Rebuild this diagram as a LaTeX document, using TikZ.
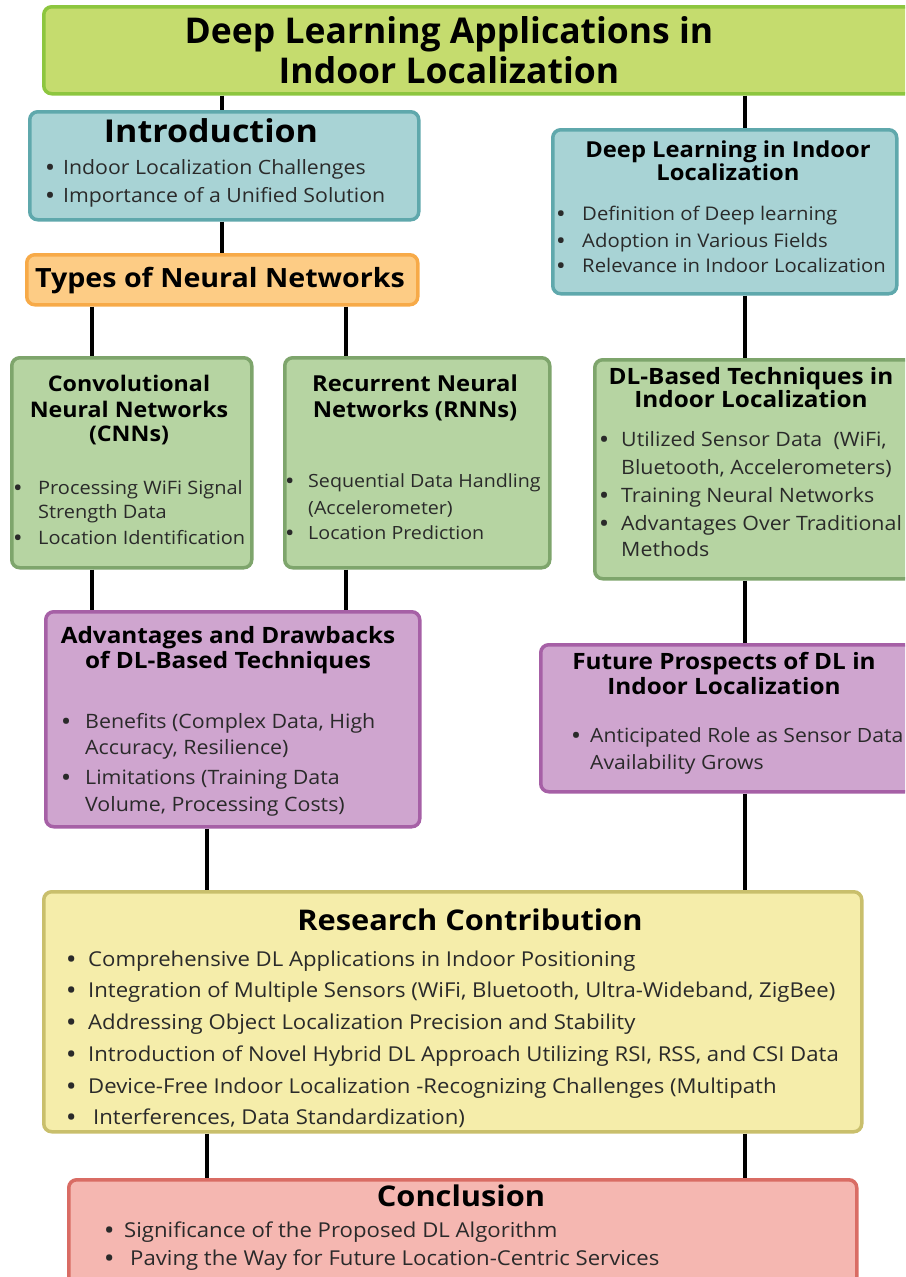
\documentclass[tikz,border=0pt]{standalone}
\usepackage{fontspec}
\setmainfont{Open Sans}[FakeStretch=1.08]
\newfontfamily\headfont{Open Sans}

\definecolor{titlefill}{HTML}{C5DC6E}
\definecolor{titleedge}{HTML}{8DC63F}
\definecolor{tealfill}{HTML}{A8D3D5}
\definecolor{tealedge}{HTML}{5FA8AC}
\definecolor{orangefill}{HTML}{FDCC85}
\definecolor{orangeedge}{HTML}{F7AA48}
\definecolor{greenfill}{HTML}{B6D4A2}
\definecolor{greenedge}{HTML}{7EA56C}
\definecolor{purplefill}{HTML}{CFA5CF}
\definecolor{purpleedge}{HTML}{A660A6}
\definecolor{yellowfill}{HTML}{F5EDAA}
\definecolor{yellowedge}{HTML}{C9BF6C}
\definecolor{pinkfill}{HTML}{F5B7B1}
\definecolor{pinkedge}{HTML}{D96C64}
\definecolor{itemtext}{HTML}{2A2A2A}

% bullet followed by a fixed gap
\newcommand\bl[1][17pt]{\makebox[#1][l]{\bfseries\textbullet}}

\begin{document}
\begin{tikzpicture}[x=1pt,y=-1pt,
  box/.style={rectangle, rounded corners=8pt, line width=3.5pt, inner sep=0pt, anchor=north west},
  % heading line: positioned by the visual centre of the line
  T/.style={font=\bfseries\fontsize{#1}{#1}\selectfont, text=black, inner sep=0pt, anchor=base, yshift={-0.34*#1pt}},
  % bullet line: positioned by the visual centre of the line
  I/.style={font=\fontsize{#1}{#1}\selectfont, text=itemtext, inner sep=0pt, anchor=base west, yshift={-0.34*#1pt}},
  link/.style={line width=4pt, black}]
\useasboundingbox (0,0) rectangle (905,1277);
\clip (0,0) rectangle (905,1277);

% ---- boxes ----
\node[box, fill=titlefill, draw=titleedge, minimum width=890pt, minimum height=87pt] (title) at (42,5) {};
\node[box, fill=tealfill, draw=tealedge, minimum width=389pt, minimum height=108pt] (intro) at (28,110) {};
\node[box, fill=orangefill, draw=orangeedge, minimum width=391pt, minimum height=50pt] (types) at (25,253) {};
\node[box, fill=tealfill, draw=tealedge, minimum width=344pt, minimum height=164pt] (dlin) at (551,128) {};
\node[box, fill=greenfill, draw=greenedge, minimum width=240pt, minimum height=210pt] (cnn) at (10,356) {};
\node[box, fill=greenfill, draw=greenedge, minimum width=265pt, minimum height=210pt] (rnn) at (283,356) {};
\node[box, fill=greenfill, draw=greenedge, minimum width=330pt, minimum height=219pt] (dlbased) at (593,358) {};
\node[box, fill=purplefill, draw=purpleedge, minimum width=374pt, minimum height=215pt] (adv) at (44,610) {};
\node[box, fill=purplefill, draw=purpleedge, minimum width=380pt, minimum height=147pt] (future) at (539,643) {};
\node[box, fill=yellowfill, draw=yellowedge, minimum width=818pt, minimum height=240pt] (research) at (42,890) {};
\node[box, fill=pinkfill, draw=pinkedge, minimum width=788pt, minimum height=120pt] (concl) at (67,1178) {};

% ---- connector columns ----
\coordinate (xa) at (222,0);
\coordinate (xb) at (745,0);
\coordinate (xc) at (92,0);
\coordinate (xd) at (346,0);
\coordinate (xe) at (207,0);

\draw[link] (title.south -| xa) -- (intro.north -| xa);
\draw[link] (title.south -| xb) -- (dlin.north -| xb);
\draw[link] (intro.south -| xa) -- (types.north -| xa);
\draw[link] (types.south -| xc) -- (cnn.north -| xc);
\draw[link] (types.south -| xd) -- (rnn.north -| xd);
\draw[link] (cnn.south -| xc) -- (adv.north -| xc);
\draw[link] (rnn.south -| xd) -- (adv.north -| xd);
\draw[link] (dlin.south -| xb) -- (dlbased.north -| xb);
\draw[link] (dlbased.south -| xb) -- (future.north -| xb);
\draw[link] (adv.south -| xe) -- (research.north -| xe);
\draw[link] (future.south -| xb) -- (research.north -| xb);
\draw[link] (research.south -| xe) -- (concl.north -| xe);
\draw[link] (research.south -| xb) -- (concl.north -| xb);

% ---- main title ----
\node[T=35.5, font=\headfont\bfseries\fontsize{35.5}{35.5}\selectfont] (title-l1) at (449,31) {Deep Learning Applications in};
\node[T=35.5, font=\headfont\bfseries\fontsize{35.5}{35.5}\selectfont] (title-l2) at (449,71) {Indoor Localization};

% ---- introduction ----
\node[T=31.5] (intro-t) at (211,132) {Introduction};
\node[I=19.7] (intro-i1) at (46,168) {\bl Indoor Localization Challenges};
\node[I=19.7] (intro-i2) at (46,196) {\bl Importance of a Unified Solution};

% ---- types of neural networks ----
\node[T=26.5] (types-t) at (220,278) {Types of Neural Networks};

% ---- deep learning in indoor localization ----
\node[T=22] (dlin-t1) at (728,150) {Deep Learning in Indoor};
\node[T=22] (dlin-t2) at (728,173) {Localization};
\node[I=18.8] (dlin-i1) at (557,214) {\bl[25pt]Definition of Deep learning};
\node[I=18.8] (dlin-i2) at (557,241) {\bl[25pt]Adoption in Various Fields};
\node[I=18.8] (dlin-i3) at (557,266) {\bl[25pt]Relevance in Indoor Localization};

% ---- CNN ----
\node[T=21.5] (cnn-t1) at (129,384) {Convolutional};
\node[T=21.5] (cnn-t2) at (129,410) {Neural Networks};
\node[T=21.5] (cnn-t3) at (129,434) {(CNNs)};
\node[I=18.5] (cnn-i1) at (14,488) {\bl[24pt]Processing WiFi Signal};
\node[I=18.5] (cnn-i1b) at (38,512) {Strength Data};
\node[I=18.5] (cnn-i2) at (14,538) {\bl[24pt]Location Identification};

% ---- RNN ----
\node[T=22] (rnn-t1) at (415,384) {Recurrent Neural};
\node[T=22] (rnn-t2) at (415,410) {Networks (RNNs)};
\node[I=18.2] (rnn-i1) at (286,481) {\bl[22pt]Sequential Data Handling};
\node[I=18.2] (rnn-i1b) at (308,508) {(Accelerometer)};
\node[I=18.2] (rnn-i2) at (286,533) {\bl[22pt]Location Prediction};

% ---- DL-based techniques ----
\node[T=22.5] (dlb-t1) at (751,377) {DL-Based Techniques in};
\node[T=22.5] (dlb-t2) at (751,400) {Indoor Localization};
\node[I=19.8] (dlb-i1) at (600,440) {\bl[21pt]Utilized Sensor Data\ \ (WiFi,};
\node[I=19.8] (dlb-i1b) at (621,468) {Bluetooth, Accelerometers)};
\node[I=19.8] (dlb-i2) at (600,496) {\bl[21pt]Training Neural Networks};
\node[I=19.8] (dlb-i3) at (600,524) {\bl[21pt]Advantages Over Traditional};
\node[I=19.8] (dlb-i3b) at (621,550) {Methods};

% ---- advantages and drawbacks ----
\node[T=22.5] (adv-t1) at (228,636) {Advantages and Drawbacks};
\node[T=22.5] (adv-t2) at (228,661) {of DL-Based Techniques};
\node[I=19.8] (adv-i1) at (62,722) {\bl[23pt]Benefits (Complex Data, High};
\node[I=19.8] (adv-i1b) at (85,748) {Accuracy, Resilience)};
\node[I=19.8] (adv-i2) at (62,778) {\bl[23pt]Limitations (Training Data};
\node[I=19.8] (adv-i2b) at (85,805) {Volume, Processing Costs)};

% ---- future prospects ----
\node[T=22.5] (fut-t1) at (724,662) {Future Prospects of DL in};
\node[T=22.5] (fut-t2) at (724,687) {Indoor Localization};
\node[I=19.6] (fut-i1) at (572,736) {\bl[18pt]Anticipated Role as Sensor Data};
\node[I=19.6] (fut-i1b) at (590,763) {Availability Grows};

% ---- research contribution ----
\node[T=28.5] (res-t) at (470,921) {Research Contribution};
\node[I=20.5] (res-i1) at (67,960) {\bl[21pt]Comprehensive DL Applications in Indoor Positioning};
\node[I=20.5] (res-i2) at (67,991) {\bl[21pt]Integration of Multiple Sensors (WiFi, Bluetooth, Ultra-Wideband, ZigBee)};
\node[I=20.5] (res-i3) at (67,1023) {\bl[21pt]Addressing Object Localization Precision and Stability};
\node[I=20.5] (res-i4) at (67,1055) {\bl[21pt]Introduction of Novel Hybrid DL Approach Utilizing RSI, RSS, and CSI Data};
\node[I=20.5] (res-i5) at (67,1087) {\bl[21pt]Device-Free Indoor Localization -Recognizing Challenges (Multipath};
\node[I=20.5] (res-i6) at (67,1118) {\bl[26pt]Interferences, Data Standardization)};

% ---- conclusion ----
\node[T=28.5] (con-t) at (461,1197) {Conclusion};
\node[I=20.5] (con-i1) at (105,1231) {\bl[19pt]Significance of the Proposed DL Algorithm};
\node[I=20.5] (con-i2) at (105,1259) {\bl[25pt]Paving the Way for Future Location-Centric Services};
\end{tikzpicture}
\end{document}
